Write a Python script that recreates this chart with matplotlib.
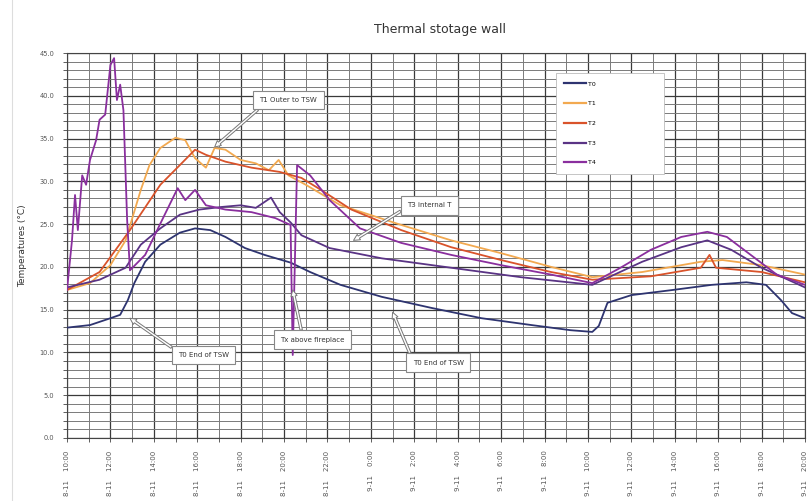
import matplotlib
matplotlib.use("Agg")
import matplotlib.pyplot as plt
from matplotlib.ticker import MultipleLocator, FormatStrFormatter

# ---------------- data (hours from start, temperature °C) ----------------
t0_h = [0, 1.06, 2, 2.45, 2.8, 3.1, 3.6, 4.3, 5.2, 5.9, 6.6, 7.3, 8.2, 9.1, 10.3, 11.2, 12.6, 14.5,
        16.8, 19.1, 21.4, 23.2, 24.2, 24.5, 24.9, 26.0, 27.9, 29.7, 31.3, 32.2, 32.9, 33.4, 34]
t0_v = [12.9, 13.2, 14.0, 14.4, 16.1, 18.1, 20.6, 22.6, 24.0, 24.5, 24.3, 23.5, 22.2, 21.4, 20.5, 19.4, 17.9, 16.5,
        15.2, 14.0, 13.2, 12.6, 12.4, 13.1, 15.8, 16.7, 17.3, 17.9, 18.2, 17.9, 16.1, 14.6, 14.0]

t1_h = [0, 1.06, 2, 2.7, 3.4, 3.8, 4.3, 5, 5.45, 5.9, 6.4, 6.8, 7.3, 8, 8.7, 9.3, 9.75, 10.2, 11,
        12.6, 15.4, 17.7, 20, 22.3, 24.2, 26.5, 29.2, 30.2, 32, 34]
t1_v = [17.3, 18.1, 20.2, 23.1, 29.0, 31.9, 33.9, 35.1, 34.8, 32.7, 31.6, 33.9, 33.7, 32.5, 32.1, 31.3, 32.5, 30.7, 29.6,
        27.2, 24.9, 23.1, 21.6, 20.0, 18.8, 19.4, 20.6, 20.8, 20.2, 19.1]

t2_h = [0, 1.5, 2.9, 4.3, 5.2, 5.9, 6.4, 7.3, 8.5, 9.8, 10.8, 11.7, 13.1, 15.4, 17.7, 20, 22.3, 24.2,
        26.9, 29.2, 29.6, 29.9, 32, 34]
t2_v = [17.3, 19.4, 24.3, 29.6, 31.9, 33.7, 33.1, 32.3, 31.6, 31.1, 30.4, 29.0, 26.7, 24.3, 22.3, 20.8, 19.4, 18.5,
        18.9, 19.9, 21.4, 19.9, 19.4, 18.2]

t3_h = [0, 1.5, 2.7, 3.4, 4.3, 5.2, 6.1, 7.1, 8, 8.7, 9.4, 9.8, 10.3, 10.8, 12.1, 14.5, 17.7, 20.9, 24.2,
        26.5, 28.3, 29.5, 30.6, 32, 34]
t3_v = [17.6, 18.5, 19.9, 22.6, 24.5, 26.1, 26.7, 27.0, 27.2, 26.9, 28.1, 26.4, 25.2, 23.7, 22.2, 21.0, 19.9, 18.8, 17.9,
        20.6, 22.3, 23.1, 22.0, 19.9, 17.6]

t4_h = [0, 0.23, 0.37, 0.5, 0.7, 0.88, 1.06, 1.34, 1.5, 1.76, 2, 2.17, 2.3, 2.45, 2.6, 2.77, 2.9, 3.6, 4.5,
        5.1, 5.45, 5.9, 6.4, 7.3, 8.5, 9.6, 10.3, 10.4, 10.6, 11.2, 12.1, 13.5, 15.4, 17.7, 20, 22.3, 24.2,
        25.5, 26.9, 28.3, 29.5, 30.4, 31.5, 32.7, 34]
t4_v = [17.3, 23.1, 28.4, 24.3, 30.7, 29.6, 32.5, 34.8, 37.2, 37.8, 43.6, 44.4, 39.5, 41.3, 38.3, 25.5, 19.6, 21.4, 26.1,
        29.2, 27.8, 29.0, 27.2, 26.7, 26.4, 25.7, 24.9, 9.7, 31.9, 30.7, 27.8, 24.5, 22.8, 21.4, 20.2, 19.1, 18.1,
        19.9, 22.0, 23.5, 24.1, 23.5, 21.4, 19.1, 17.9]

series_names = ["T0", "T1", "T2", "T3", "T4"]
series_colors = ["#2e3470", "#f2a950", "#d9532b", "#5a3485", "#8a2f9e"]

tick_hours = list(range(0, 35, 2))
tick_labels = ["8-11    10:00", "8-11    12:00", "8-11    14:00", "8-11    16:00", "8-11    18:00",
               "8-11    20:00", "8-11    22:00", "9-11    0:00", "9-11    2:00", "9-11    4:00",
               "9-11    6:00", "9-11    8:00", "9-11    10:00", "9-11    12:00", "9-11    14:00",
               "9-11    16:00", "9-11    18:00", "9-11    20:00"]

annotations = [
    ("T1 Outer to TSW", (6.8, 34.0), (10.2, 39.5), (0.1, 0.0)),
    ("T3 internal T", (13.2, 23.1), (16.7, 27.2), (0.0, 0.2)),
    ("T0 End of TSW", (2.9, 14.0), (6.3, 9.7), (0.0, 1.0)),
    ("Tx above fireplace", (10.4, 17.3), (11.3, 11.5), (0.35, 1.0)),
    ("T0 End of TSW", (15.0, 14.7), (17.1, 8.8), (0.0, 1.0)),
]

# ---------------- figure ----------------
fig = plt.figure(figsize=(8.08, 5.01), dpi=100)
ax = fig.add_axes([67/808, 1-438/501, (805-67)/808, (438-53)/501])

xs = [t0_h, t1_h, t2_h, t3_h, t4_h]
ys = [t0_v, t1_v, t2_v, t3_v, t4_v]
for x, y, n, c in zip(xs, ys, series_names, series_colors):
    ax.plot(x, y, color=c, lw=1.3, label=n, zorder=3)

ax.set_xlim(0, 34)
ax.set_ylim(0, 45)
ax.yaxis.set_major_locator(MultipleLocator(5))
ax.yaxis.set_minor_locator(MultipleLocator(1))
ax.yaxis.set_major_formatter(FormatStrFormatter("%.1f"))
ax.xaxis.set_minor_locator(MultipleLocator(1))
ax.set_xticks(tick_hours)
ax.set_xticklabels(tick_labels, rotation=90, fontsize=5, color="#555555")
ax.tick_params(axis="y", labelsize=4.8, labelcolor="#555555")
ax.grid(which="major", color="#3a3a3a", lw=0.9)
ax.grid(which="minor", color="#7a7a7a", lw=0.7)
ax.set_axisbelow(True)
ax.tick_params(which="both", length=3, width=0.6, color="#444444", pad=6)
for s in ax.spines.values():
    s.set_color("#444444")
    s.set_linewidth(0.8)

ax.set_ylabel("Temperatures (°C)", fontsize=6.5, color="#333333", labelpad=9)
fig.text(440/808, 1-30/501, "Thermal stotage wall", ha="center", va="center", fontsize=9, color="#333333")

leg = ax.legend(loc="upper left", bbox_to_anchor=((556-67)/738, (438-73)/385), fontsize=4.5,
                handlelength=3.5, labelspacing=2.3, borderpad=1.3, handletextpad=0.3,
                frameon=True, fancybox=False, borderaxespad=0)
leg.get_frame().set_edgecolor("#bbbbbb")
leg.get_frame().set_linewidth(0.6)
leg.get_frame().set_alpha(1)
for h in leg.legend_handles:
    h.set_linewidth(1.6)
for t in leg.get_texts():
    t.set_text(t.get_text() + " " * 30)

for txt, tip, pos, rp in annotations:
    ax.annotate(txt, xy=tip, xytext=pos, fontsize=5, color="#333333", ha="center", va="center",
                bbox=dict(boxstyle="square,pad=0.9", fc="white", ec="#888888", lw=0.8),
                arrowprops=dict(arrowstyle="simple,head_length=0.9,head_width=0.9,tail_width=0.35",
                                fc="white", ec="#777777", lw=0.7, relpos=rp, shrinkA=0, shrinkB=0),
                zorder=5)

fig.add_artist(plt.Line2D([12/808, 12/808], [0, 1], color="#dddddd", lw=0.8))

fig.savefig("out.png", dpi=100)
